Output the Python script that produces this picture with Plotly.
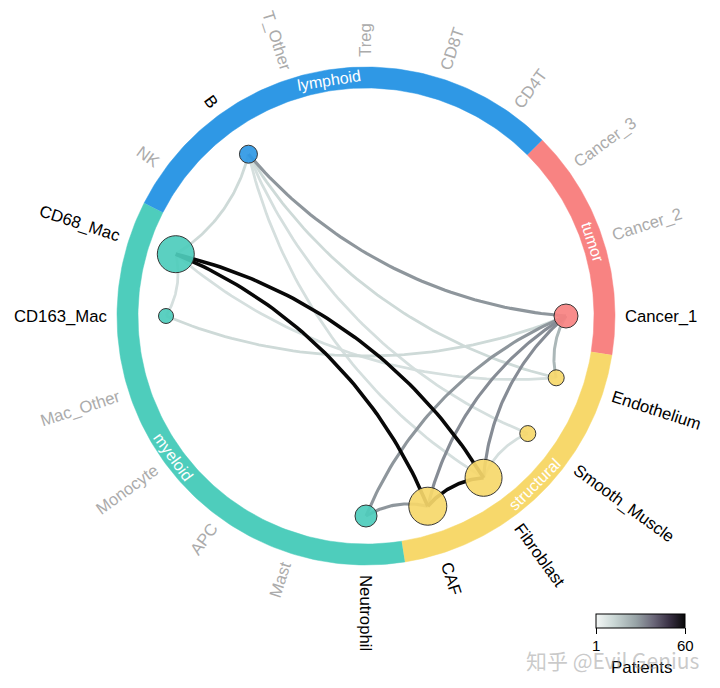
import numpy as np
import plotly.graph_objects as go

# ---------------- data ----------------
cell_types = ["Cancer_3", "Cancer_2", "Cancer_1", "Endothelium", "Smooth_Muscle", "Fibroblast", "CAF",
              "Neutrophil", "Mast", "APC", "Monocyte", "Mac_Other", "CD163_Mac", "CD68_Mac",
              "NK", "B", "T_Other", "Treg", "CD8T", "CD4T"]
cell_groups = ["tumor"] * 3 + ["structural"] * 4 + ["myeloid"] * 7 + ["lymphoid"] * 6
group_names = ["tumor", "structural", "myeloid", "lymphoid"]
group_colors = ["#F88382", "#F7D86B", "#4ECDBC", "#2F98E5"]

node_cells = ["Cancer_1", "Endothelium", "Smooth_Muscle", "Fibroblast", "CAF",
              "Neutrophil", "CD163_Mac", "CD68_Mac", "B"]
node_abundance = [24, 16, 16, 37, 38, 22, 15, 37, 18]

edge_from = ["CD163_Mac", "B", "B", "B", "B", "CD68_Mac", "CD163_Mac", "Cancer_1", "Cancer_1",
             "Cancer_1", "Cancer_1", "Smooth_Muscle", "Fibroblast", "CAF", "CAF", "Fibroblast", "CD68_Mac"]
edge_to = ["Cancer_1", "Cancer_1", "Endothelium", "Smooth_Muscle", "Fibroblast", "B", "CD68_Mac",
           "Endothelium", "Fibroblast", "CAF", "Neutrophil", "Fibroblast", "CAF", "Neutrophil",
           "CD68_Mac", "CD68_Mac", "Endothelium"]
edge_patients = [12, 30, 12, 10, 10, 12, 10, 22, 32, 32, 30, 10, 60, 30, 60, 60, 10]

patients_min, patients_max = 1, 60
cscale = [[0.0, "#F4F7F6"], [0.2, "#CBD8D6"], [0.45, "#97A3A6"],
          [0.65, "#6A6678"], [0.82, "#3A3145"], [1.0, "#080808"]]

# ---------------- layout constants ----------------
W, H = 720, 688
CX, CY = 366, 316
R_NODE = 200
R_IN, R_OUT = 228, 249
R_MID = (R_IN + R_OUT) / 2
R_LABEL = 259
START, STEP = -36.0, 18.0
CURV = 0.2

ang = {c: START + STEP * i for i, c in enumerate(cell_types)}
grp_of = dict(zip(cell_types, cell_groups))
gcol = dict(zip(group_names, group_colors))


def pos(a_deg, r):
    a = np.radians(a_deg)
    return CX + r * np.cos(a), CY + r * np.sin(a)


def hex2rgb(h):
    h = h.lstrip("#")
    return np.array([int(h[i:i + 2], 16) for i in (0, 2, 4)], float)


def scale_color(v):
    t = (v - patients_min) / (patients_max - patients_min)
    for (t0, c0), (t1, c1) in zip(cscale[:-1], cscale[1:]):
        if t <= t1:
            f = (t - t0) / (t1 - t0) if t1 > t0 else 0
            c = hex2rgb(c0) * (1 - f) + hex2rgb(c1) * f
            return "rgb(%d,%d,%d)" % tuple(np.round(c))
    return cscale[-1][1]


def arc_curve(p0, p1, c=CURV, n=60):
    p0 = np.array(p0); p1 = np.array(p1)
    d = p1 - p0
    L = np.hypot(*d)
    h = L / 2
    s = c * h
    nh = np.array([-d[1], d[0]]) / L
    R = (h * h + s * s) / (2 * s)
    M = (p0 + p1) / 2
    O = M - nh * (R - s)
    apex = np.arctan2(nh[1], nh[0])

    def rel(p):
        a = np.arctan2(p[1] - O[1], p[0] - O[0]) - apex
        return (a + np.pi) % (2 * np.pi) - np.pi

    t = np.linspace(rel(p0), rel(p1), n) + apex
    return O[0] + R * np.cos(t), O[1] + R * np.sin(t)


# Arial / Liberation Sans advance widths (per 1000 em)
CW = dict(zip("ABCDEFGHIJKLMNOPQRSTUVWXYZ",
              [667, 667, 722, 722, 667, 611, 778, 722, 278, 500, 667, 556, 833, 722, 778, 667, 778,
               722, 667, 611, 722, 667, 944, 667, 667, 611]))
CW.update(dict(zip("abcdefghijklmnopqrstuvwxyz",
                   [556, 556, 500, 556, 556, 278, 556, 556, 222, 222, 500, 222, 833, 556, 556, 556,
                    556, 333, 500, 278, 556, 500, 722, 500, 500, 500])))
CW.update({ch: 556 for ch in "0123456789_"})


def text_w(s, size):
    return sum(CW.get(ch, 556) for ch in s) * size / 1000.0


fig = go.Figure()

# ring segments
for g, col in zip(group_names, group_colors):
    idx = [i for i, cg in enumerate(cell_groups) if cg == g]
    a0 = START + STEP * (min(idx) - 0.5)
    a1 = START + STEP * (max(idx) + 0.5)
    aa = np.linspace(a0, a1, 120)
    xo, yo = pos(aa, R_OUT)
    xi, yi = pos(aa[::-1], R_IN)
    fig.add_trace(go.Scatter(x=np.r_[xo, xi], y=np.r_[yo, yi], fill="toself", fillcolor=col,
                             mode="lines", line=dict(width=0.5, color=col), hoverinfo="skip",
                             showlegend=False))

# edges (light first)
order = np.argsort(edge_patients, kind="stable")
for k in order:
    f, t, p = edge_from[k], edge_to[k], edge_patients[k]
    x, y = arc_curve(pos(ang[f], R_NODE), pos(ang[t], R_NODE))
    fig.add_trace(go.Scatter(x=x, y=y, mode="lines",
                             line=dict(color=scale_color(p), width=2.6 + 1.0 * p / patients_max),
                             hoverinfo="skip", showlegend=False))

# nodes
nx = [pos(ang[c], R_NODE)[0] for c in node_cells]
ny = [pos(ang[c], R_NODE)[1] for c in node_cells]
fig.add_trace(go.Scatter(x=nx, y=ny, mode="markers",
                         marker=dict(size=node_abundance, color=[gcol[grp_of[c]] for c in node_cells],
                                     opacity=0.92, line=dict(color="#262626", width=1)),
                         text=node_cells, hoverinfo="text", showlegend=False))

# colorbar (bar + ticks from plotly; labels as annotations for exact placement)
CB_X0, CB_X1, CB_TOP = 596, 685, 614
fig.add_trace(go.Scatter(x=[-500], y=[-500], mode="markers", hoverinfo="skip", showlegend=False,
                         marker=dict(color=[patients_min], cmin=patients_min, cmax=patients_max,
                                     colorscale=cscale, showscale=True, size=1,
                                     colorbar=dict(orientation="h", x=(CB_X0 + CB_X1) / 2 / W,
                                                   xanchor="center", y=1 - CB_TOP / H, yanchor="top",
                                                   len=CB_X1 - CB_X0, lenmode="pixels",
                                                   thickness=14, outlinewidth=1, outlinecolor="black",
                                                   tickvals=[patients_min, patients_max],
                                                   ticks="outside", ticklen=6, tickcolor="black",
                                                   showticklabels=False,
                                                   xpad=0, ypad=0))))

annotations = []
for v, xx in ((patients_min, CB_X0), (patients_max, CB_X1)):
    annotations.append(dict(x=xx, y=645, xref="x", yref="y", text=str(v), showarrow=False,
                            xanchor="center", yanchor="middle", font=dict(size=15, color="black")))
annotations.append(dict(x=641, y=667, xref="x", yref="y", text="Patients", showarrow=False,
                        xanchor="center", yanchor="middle", font=dict(size=17, color="black")))

FS = 16.7
# cell-type labels
for c in cell_types:
    a = ang[c] % 360
    if a <= 90 or a >= 270:
        ta = a if a <= 90 else a - 360
    else:
        ta = a - 180
    w = text_w(c, FS)
    lx, ly = pos(a, R_LABEL + w / 2)
    col = "#000000" if c in node_cells else "#ABABAB"
    annotations.append(dict(x=lx, y=ly, xref="x", yref="y", text=c, showarrow=False,
                            textangle=ta, xanchor="center", yanchor="middle",
                            font=dict(size=FS, color=col)))

# group labels
for g in group_names:
    idx = [i for i, cg in enumerate(cell_groups) if cg == g]
    a = (START + STEP * (min(idx) + max(idx)) / 2) % 360
    ta = a + 90 if a > 180 else a - 90
    ta = (ta + 180) % 360 - 180
    lx, ly = pos(a, R_MID)
    annotations.append(dict(x=lx, y=ly, xref="x", yref="y", text=g, showarrow=False,
                            textangle=ta, xanchor="center", yanchor="middle",
                            font=dict(size=16, color="white")))

# watermark
annotations.append(dict(x=613, y=660, xref="x", yref="y", text="知乎 @Evil Genius", showarrow=False,
                        xanchor="center", yanchor="middle",
                        font=dict(size=21, color="rgba(150,150,150,0.5)",
                                  family="Noto Sans CJK SC, Liberation Sans")))

fig.update_layout(width=W, height=H, margin=dict(l=0, r=0, t=0, b=0),
                  paper_bgcolor="white", plot_bgcolor="white",
                  font=dict(family="Liberation Sans, Arial, sans-serif"),
                  xaxis=dict(range=[0, W], visible=False, fixedrange=True),
                  yaxis=dict(range=[H, 0], visible=False, fixedrange=True),
                  annotations=annotations, showlegend=False)

fig.write_html("out.html", config={"displayModeBar": False},
               post_script="document.body.style.margin='0px';")
